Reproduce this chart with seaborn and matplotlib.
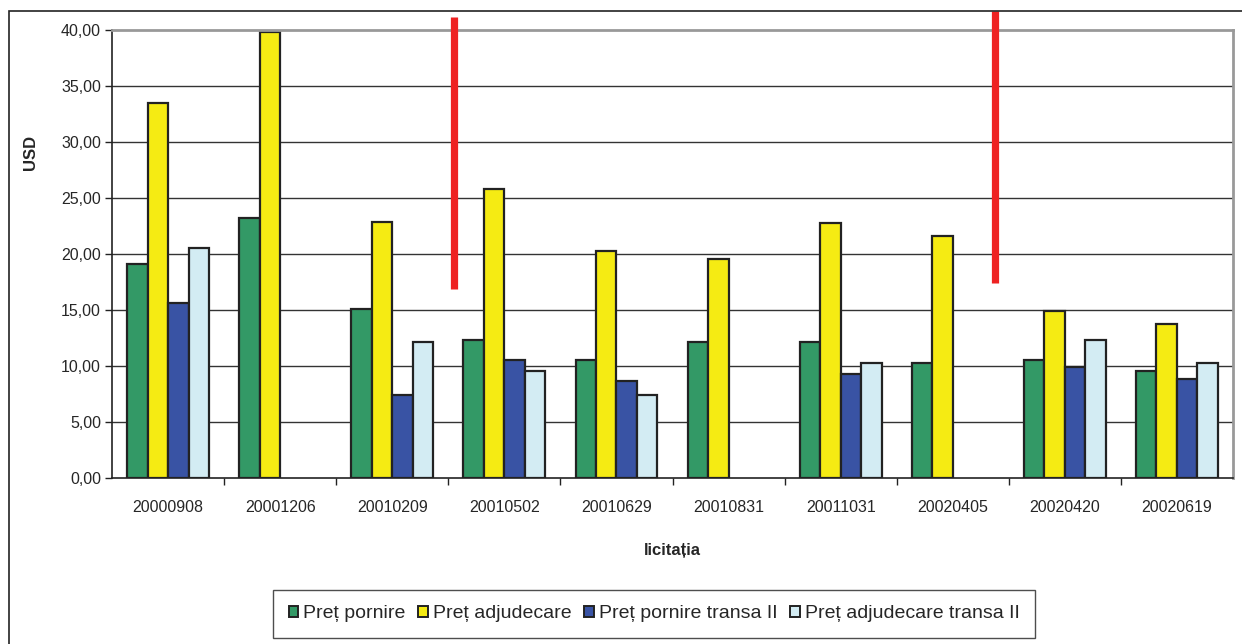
import matplotlib.pyplot as plt
import matplotlib.patches as mpatches
from matplotlib import font_manager
import numpy as np
import pandas as pd
import seaborn as sns

licitatii = ["20000908", "20001206", "20010209", "20010502", "20010629",
             "20010831", "20011031", "20020405", "20020420", "20020619"]
serii = ["Preț pornire", "Preț adjudecare", "Preț pornire transa II", "Preț adjudecare transa II"]
pret_pornire = [19.1, 23.25, 15.1, 12.3, 10.5, 12.1, 12.1, 10.25, 10.5, 9.55]
pret_adjudecare = [33.5, 39.8, 22.85, 25.8, 20.27, 19.55, 22.8, 21.6, 14.9, 13.75]
pret_pornire_t2 = [15.6, np.nan, 7.45, 10.5, 8.66, np.nan, 9.3, np.nan, 9.95, 8.85]
pret_adjudecare_t2 = [20.5, np.nan, 12.1, 9.55, 7.4, np.nan, 10.25, np.nan, 12.3, 10.25]
culori = ["#339966", "#F5EB13", "#3953A4", "#D3ECF3"]
# red separators (category-axis position, bottom, top)
separatoare = [(2.55, 16.9, 41.2), (7.38, 17.4, 41.7)]

rows = []
for nume, vals in zip(serii, [pret_pornire, pret_adjudecare, pret_pornire_t2, pret_adjudecare_t2]):
    for lic, v in zip(licitatii, vals):
        if not np.isnan(v):
            rows.append({"licitatia": lic, "serie": nume, "USD": v})
df = pd.DataFrame(rows)

sns.set_style("white")
plt.rcParams["font.family"] = ["Liberation Sans", "DejaVu Sans"]

# tick labels in the original use a condensed face
available = {f.name for f in font_manager.fontManager.ttflist}
if "Liberation Sans Narrow" in available:
    tick_font, tick_size = ["Liberation Sans Narrow", "DejaVu Sans"], 14
else:
    tick_font, tick_size = ["Liberation Sans", "DejaVu Sans"], 11.5

fig = plt.figure(figsize=(12.42, 6.44), dpi=100)
ax = fig.add_axes([112 / 1242, 1 - 478 / 644, (1233 - 112) / 1242, (478 - 30) / 644])

sns.barplot(data=df, x="licitatia", y="USD", hue="serie", order=licitatii,
            hue_order=serii, palette=culori, width=0.73, edgecolor="#222222",
            linewidth=1.6, saturation=1, legend=False, ax=ax)

ax.set_ylim(0, 40)
ax.set_xlim(-0.5, len(licitatii) - 0.5)
ax.set_yticks(np.arange(0, 41, 5))
ax.set_yticklabels([f"{v:.2f}".replace(".", ",") for v in np.arange(0, 41, 5)])
for y in np.arange(5, 40, 5):
    ax.axhline(y, color="#333333", lw=1.0, zorder=0)

for s in ["top", "right"]:
    ax.spines[s].set_color("#999999")
    ax.spines[s].set_linewidth(2.0)
for s in ["left", "bottom"]:
    ax.spines[s].set_color("#222222")
    ax.spines[s].set_linewidth(1.2)

ax.tick_params(axis="y", which="major", length=5, width=1, color="#222222",
               pad=3, direction="out", left=True)
ax.tick_params(axis="x", which="major", length=0, pad=16)
for lab in ax.get_xticklabels() + ax.get_yticklabels():
    lab.set_family(tick_font)
    lab.set_fontsize(tick_size)
ax.set_xticks(np.arange(0.5, len(licitatii) - 0.5, 1), minor=True)
ax.tick_params(axis="x", which="minor", length=5, width=1, color="#222222",
               direction="out", bottom=True)

ax.set_xlabel("licitația", fontsize=12, fontweight="bold", labelpad=20)
ax.set_ylabel("")
fig.text(30 / 1242, 1 - 152 / 644, "USD", rotation=90, fontsize=12,
         fontweight="bold", ha="center", va="center")

for x, y0, y1 in separatoare:
    ax.plot([x, x], [y0, y1], color="#EE2222", lw=5.2, solid_capstyle="butt",
            clip_on=False, zorder=5)

handles = [mpatches.Patch(facecolor=c, edgecolor="#222222", linewidth=1.4, label=n)
           for c, n in zip(culori, serii)]
leg = fig.legend(handles=handles, loc="center", bbox_to_anchor=(654 / 1242, 1 - 614 / 644),
                 ncol=4, frameon=True, fancybox=False, fontsize=14,
                 handlelength=0.5, handleheight=0.5, handletextpad=0.25,
                 columnspacing=0.65, borderpad=0.8, edgecolor="#222222")
leg.get_frame().set_linewidth(1.0)

fig.patches.append(mpatches.Rectangle((9 / 1242, -0.5), 2, 1.5 - 11 / 644,
                                      transform=fig.transFigure, fill=False,
                                      edgecolor="#222222", lw=1.2))

fig.savefig("out.png", dpi=100)
